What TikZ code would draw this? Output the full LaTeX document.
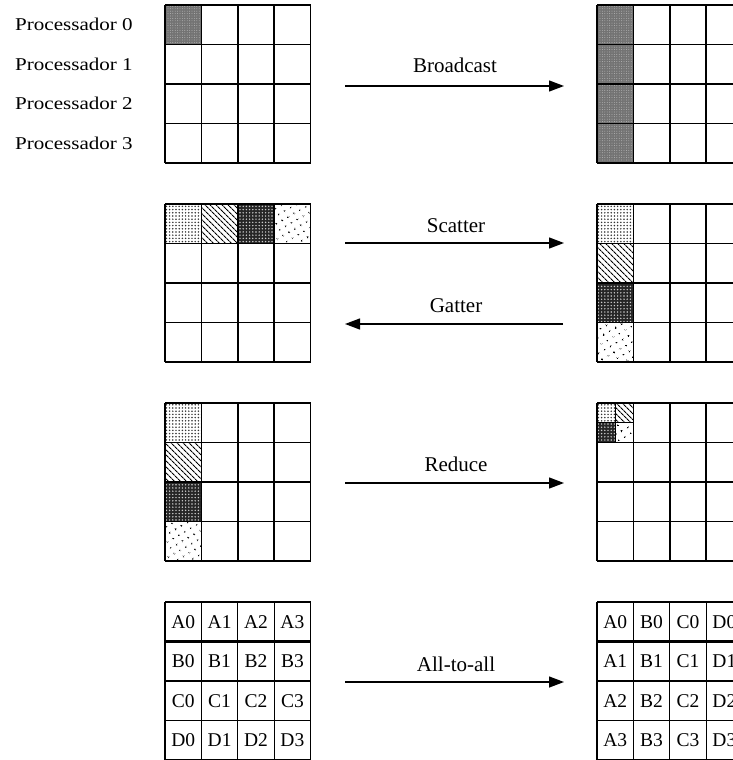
\documentclass[tikz,border=0pt]{standalone}
\usepackage{fontspec}
\setmainfont{Liberation Serif}
\newfontfamily\procfont[FakeStretch=1.17]{Liberation Serif}
\usetikzlibrary{arrows.meta,patterns.meta}

\tikzset{
  gl/.style={line width=1.6pt, line cap=square},
  glt/.style={line width=1.2pt, line cap=square},
  sep/.style={line width=2.8pt},
  pG/.style={fill=black!55, postaction={pattern={Dots[distance=2.4pt,radius=0.45pt]}, pattern color=black!25}},
  pA/.style={pattern={Dots[distance=3.2pt,radius=0.85pt]}, pattern color=black!80},
  pB/.style={pattern={Lines[angle=-45,distance=4pt,line width=1.1pt]}, pattern color=black},
  pC/.style={fill=black!85, postaction={pattern={Dots[distance=3.2pt,radius=0.8pt]}, pattern color=black!20}},
  pD/.style={pattern={Dots[distance=6.5pt,radius=0.95pt,angle=30]}, pattern color=black},
  arr/.style={line width=1.3pt, -{Triangle[length=15pt,width=11pt]}},
  lab/.style={font=\fontsize{21}{23}\selectfont, inner sep=0pt},
  proc/.style={font=\procfont\fontsize{18}{20}\selectfont, anchor=west, inner sep=0pt},
  celltxt/.style={font=\fontsize{19.5}{21}\selectfont, inner sep=0pt},
}

\newcommand\mygrid[3]{% x0, y0, style
  \foreach \i in {0,...,4} {
    \draw[#3] ({#1+36.4*\i},#2) -- ({#1+36.4*\i},{#2+158});
    \draw[#3] (#1,{#2+39.5*\i}) -- ({#1+145.6},{#2+39.5*\i});
  }}

\begin{document}
\begin{tikzpicture}[x=1pt,y=-1pt]
\useasboundingbox (0,0) rectangle (733,760);
\clip (0,0) rectangle (733,760);
\fill[white] (0,0) rectangle (733,760);

% ---------- Block 1: Broadcast ----------
\path[pG] (165,5) rectangle (201.4,44.5);
\foreach \r in {0,...,3} {
  \path[pG] (597,{5+39.5*\r}) rectangle (633.4,{5+39.5*(\r+1)});
}
\mygrid{165}{5}{gl}
\mygrid{597}{5}{gl}
\node[proc] (p0) at (15,24.75) {Processador 0};
\node[proc] (p1) at (15,64.25) {Processador 1};
\node[proc] (p2) at (15,103.75) {Processador 2};
\node[proc] (p3) at (15,143.25) {Processador 3};
\coordinate (bA) at (345,86);
\coordinate (bB) at (564,86);
\draw[arr] (bA) -- (bB);
\node[lab] (lb) at (455,65) {Broadcast};

% ---------- Block 2: Scatter / Gatter ----------
\path[pA] (165,204) rectangle (201.4,243.5);
\path[pB] (201.4,204) rectangle (237.8,243.5);
\path[pC] (237.8,204) rectangle (274.2,243.5);
\path[pD] (274.2,204) rectangle (310.6,243.5);
\path[pA] (597,204) rectangle (633.4,243.5);
\path[pB] (597,243.5) rectangle (633.4,283);
\path[pC] (597,283) rectangle (633.4,322.5);
\path[pD] (597,322.5) rectangle (633.4,362);
\mygrid{165}{204}{gl}
\mygrid{597}{204}{gl}
\coordinate (sA) at (345,243);
\coordinate (sB) at (564,243);
\draw[arr] (sA) -- (sB);
\node[lab] (ls) at (456,226) {Scatter};
\coordinate (gA) at (563,324);
\coordinate (gB) at (345,324);
\draw[arr] (gA) -- (gB);
\node[lab] (lg) at (456,306) {Gatter};

% ---------- Block 3: Reduce ----------
\path[pA] (165,403) rectangle (201.4,442.5);
\path[pB] (165,442.5) rectangle (201.4,482);
\path[pC] (165,482) rectangle (201.4,521.5);
\path[pD] (165,521.5) rectangle (201.4,561);
\path[pA] (597,403) rectangle (615.2,422.75);
\path[pB] (615.2,403) rectangle (633.4,422.75);
\path[pC] (597,422.75) rectangle (615.2,442.5);
\path[pD] (615.2,422.75) rectangle (633.4,442.5);
\draw[line width=0.9pt] (615.2,403) -- (615.2,442.5);
\draw[line width=0.9pt] (597,422.75) -- (633.4,422.75);
\mygrid{165}{403}{gl}
\mygrid{597}{403}{gl}
\coordinate (rA) at (345,483);
\coordinate (rB) at (564,483);
\draw[arr] (rA) -- (rB);
\node[lab] (lr) at (456,464) {Reduce};

% ---------- Block 4: All-to-all ----------
\mygrid{165}{602}{glt}
\mygrid{597}{602}{glt}
\draw[sep] (165,641.5) -- (310.6,641.5);
\draw[sep] (597,641.5) -- (742.6,641.5);
\foreach \L [count=\r from 0] in {A,B,C,D} {
  \foreach \c in {0,...,3} {
    \node[celltxt] (l\L\c) at ({165+18.2+36.4*\c},{602+19.75+39.5*\r}) {\L\c};
    \node[celltxt] (r\L\c) at ({597+18.2+36.4*\r},{602+19.75+39.5*\c}) {\L\c};
  }
}
\coordinate (aA) at (345,682);
\coordinate (aB) at (564,682);
\draw[arr] (aA) -- (aB);
\node[lab] (la) at (456,664) {All-to-all};
\end{tikzpicture}
\end{document}
